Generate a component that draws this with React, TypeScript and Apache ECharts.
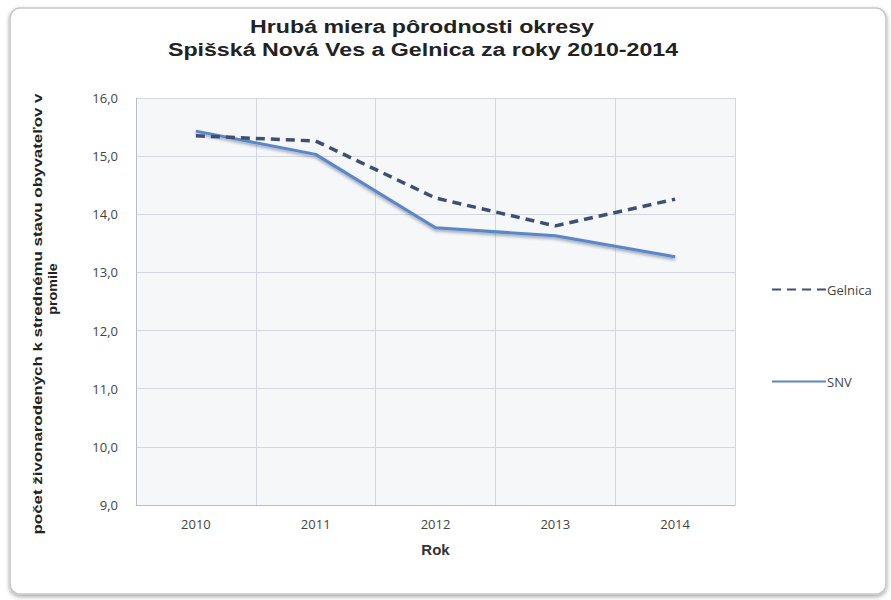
import React, { useEffect, useRef } from "react";
import * as echarts from "echarts";

const years = ["2010", "2011", "2012", "2013", "2014"];
const gelnica = [15.35, 15.26, 14.28, 13.8, 14.26];
const snv = [15.43, 15.03, 13.77, 13.63, 13.27];
const titleLines = ["Hrubá miera pôrodnosti okresy", "Spišská Nová Ves a Gelnica za roky 2010-2014"];
const yNameLines = ["počet živonarodených k strednému stavu obyvateľov v", "promile"];
const xName = "Rok";

export default function App() {
  const ref = useRef<HTMLDivElement>(null);
  useEffect(() => {
    if (!ref.current) return;
    const chart = echarts.init(ref.current, null, { renderer: "svg" });
    const titleFont = "bold 19px 'Liberation Sans', Arial, sans-serif";
    const yFont = "bold 13px 'Liberation Sans', Arial, sans-serif";
    chart.setOption({
      animation: false,
      backgroundColor: "#ffffff",
      graphic: [
        {
          type: "rect",
          shape: { x: 10, y: 8, width: 876, height: 586, r: 10 },
          style: {
            fill: "#ffffff",
            stroke: "#c8c8c8",
            lineWidth: 1.5,
            shadowColor: "rgba(0,0,0,0.35)",
            shadowBlur: 4,
            shadowOffsetY: 2,
          },
          z: -10,
          silent: true,
        },
        {
          type: "text",
          x: 422,
          y: 26,
          scaleX: 1.22,
          style: {
            text: titleLines[0],
            font: titleFont,
            fill: "#222",
            textAlign: "center",
            textVerticalAlign: "middle",
          },
        },
        {
          type: "text",
          x: 423,
          y: 49,
          scaleX: 1.22,
          style: {
            text: titleLines[1],
            font: titleFont,
            fill: "#222",
            textAlign: "center",
            textVerticalAlign: "middle",
          },
        },
        {
          type: "text",
          x: 37,
          y: 314,
          rotation: Math.PI / 2,
          scaleX: 1.3,
          style: {
            text: yNameLines[0],
            font: yFont,
            fill: "#222",
            textAlign: "center",
            textVerticalAlign: "middle",
          },
        },
        {
          type: "text",
          x: 53,
          y: 289,
          rotation: Math.PI / 2,
          scaleX: 1.1,
          style: {
            text: yNameLines[1],
            font: yFont,
            fill: "#222",
            textAlign: "center",
            textVerticalAlign: "middle",
          },
        },
      ],
      legend: {
        orient: "vertical",
        left: 766,
        top: 278,
        itemGap: 79,
        itemWidth: 54,
        itemHeight: 14,
        itemStyle: { opacity: 0 },
        textStyle: {
          fontFamily: "Open Sans, sans-serif",
          fontSize: 13,
          color: "#444",
          padding: [0, 0, 0, -4],
        },
        data: ["Gelnica", "SNV"],
      },
      grid: { left: 136, right: 156, top: 98, bottom: 95 },
      xAxis: {
        type: "category",
        data: years,
        boundaryGap: true,
        name: xName,
        nameLocation: "middle",
        nameGap: 37,
        nameTextStyle: {
          fontFamily: "Liberation Sans, Arial, sans-serif",
          fontSize: 15,
          fontWeight: "bold",
          color: "#333",
        },
        axisLine: { show: true, lineStyle: { color: "#b8bcc4" } },
        axisTick: { show: false },
        axisLabel: {
          fontFamily: "Open Sans, sans-serif",
          fontSize: 13,
          color: "#444",
          margin: 12,
        },
        splitLine: { show: true, lineStyle: { color: "#d3d8e0", width: 1 } },
      },
      yAxis: {
        type: "value",
        min: 9,
        max: 16,
        interval: 1,
        axisLine: { show: true, lineStyle: { color: "#b8bcc4" } },
        axisTick: { show: false },
        axisLabel: {
          fontFamily: "Open Sans, sans-serif",
          fontSize: 13,
          color: "#444",
          margin: 18,
          formatter: (v: number) => v.toFixed(1).replace(".", ","),
        },
        splitLine: { show: true, lineStyle: { color: "#d3d8e0", width: 1 } },
        splitArea: { show: true, areaStyle: { color: ["#f6f7f9", "#f6f7f9"] } },
      },
      series: [
        {
          name: "Gelnica",
          type: "line",
          data: gelnica,
          symbol: "none",
          color: "#3e4f74",
          lineStyle: { color: "#3e4f74", width: 3.5, type: [9, 6] },
          z: 3,
        },
        {
          name: "SNV",
          type: "line",
          data: snv,
          symbol: "none",
          color: "#5b86c6",
          lineStyle: {
            color: "#5b86c6",
            width: 3,
            shadowColor: "rgba(40,60,100,0.45)",
            shadowBlur: 3,
            shadowOffsetY: 2,
          },
          z: 2,
        },
      ],
    });
    return () => chart.dispose();
  }, []);
  return (
    <div
      ref={ref}
      style={{ position: "fixed", left: 0, top: 0, width: 891, height: 600 }}
    />
  );
}
